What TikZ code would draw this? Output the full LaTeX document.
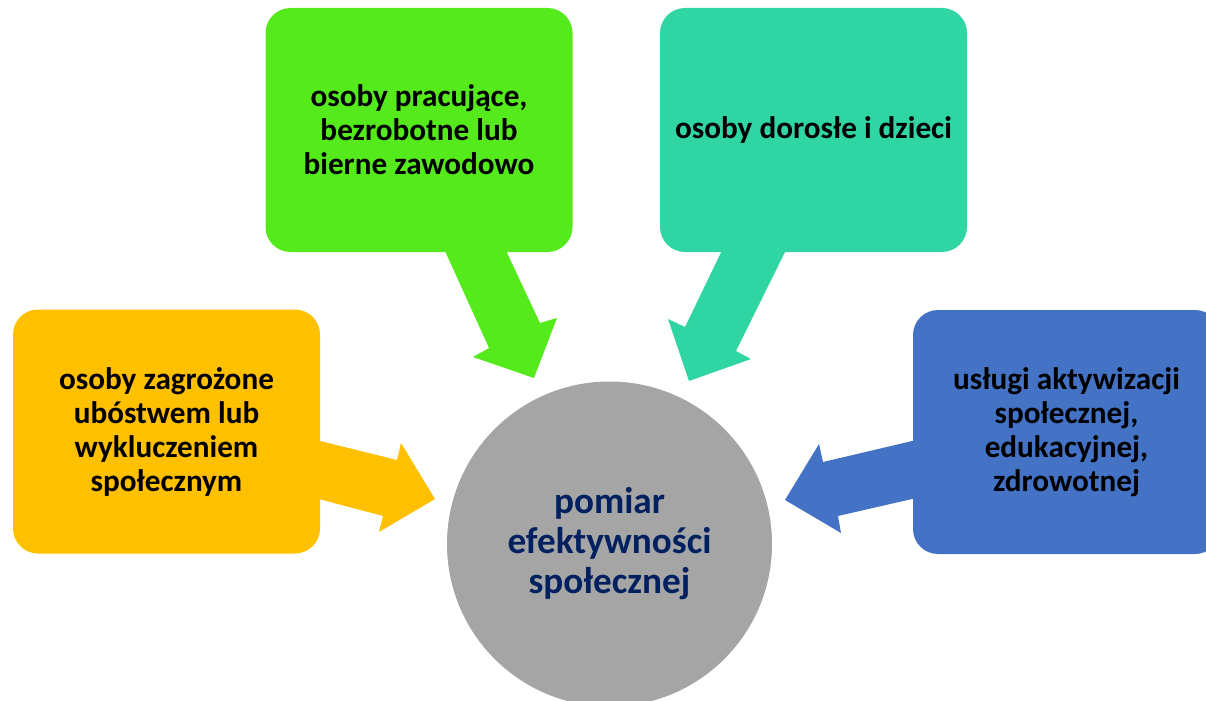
\documentclass[tikz,border=0pt]{standalone}
\usepackage{fontspec}
\setmainfont{Carlito}
\usepackage{tikz}
\usetikzlibrary{positioning}
\definecolor{boxorange}{HTML}{FFC000}
\definecolor{boxgreen}{HTML}{55EA1B}
\definecolor{boxteal}{HTML}{2FD6A3}
\definecolor{boxblue}{HTML}{4472C4}
\definecolor{hubgrey}{HTML}{A5A5A5}
\definecolor{hubnavy}{HTML}{002060}
\tikzset{
groupbox/.style={rounded corners=12.5pt,minimum width=153.5pt,minimum height=122pt,inner sep=0pt,
align=center,font=\fontsize{15.6}{17}\selectfont\bfseries,text=black},
hub/.style={circle,fill=hubgrey,minimum size=162.5pt,inner sep=0pt,align=center,
font=\fontsize{18.6}{20}\selectfont\bfseries,text=hubnavy}
}

\begin{document}
\begin{tikzpicture}[x=0.5pt,y=-0.5pt]
\clip (0,0) rectangle (1206,701);
% block arrows towards the hub
\fill[boxgreen] (440,240) -- (489,348) -- (473,357) -- (534,378) -- (557,318) -- (540,323) -- (501,240) -- cycle;
\fill[boxteal] (727,240) -- (685,327) -- (668,319) -- (689,381) -- (751,359) -- (736,351) -- (791,240) -- cycle;
\fill[boxorange] (300,436) -- (397,460) -- (401,443) -- (435,499) -- (379,532) -- (383,516) -- (300,494) -- cycle;
\fill[boxblue] (925,438) -- (823,462) -- (819,444) -- (785,500) -- (841,533) -- (838,516) -- (925,496) -- cycle;
% boxes
\node[groupbox,fill=boxgreen] (workers) at (419,130) {osoby pracujące,\\bezrobotne lub\\bierne zawodowo};
\node[groupbox,fill=boxteal] (ages) at (813.5,130) {osoby dorosłe i dzieci};
\node[groupbox,fill=boxorange] (risk) at (166.5,431.5) {osoby zagrożone\\ubóstwem lub\\wykluczeniem\\społecznym};
\node[groupbox,fill=boxblue] (services) at (1066.5,432) {usługi aktywizacji\\społecznej,\\edukacyjnej,\\zdrowotnej};
\node[hub] (measure) at (609.5,544) {pomiar\\efektywności\\społecznej};
\end{tikzpicture}
\end{document}
